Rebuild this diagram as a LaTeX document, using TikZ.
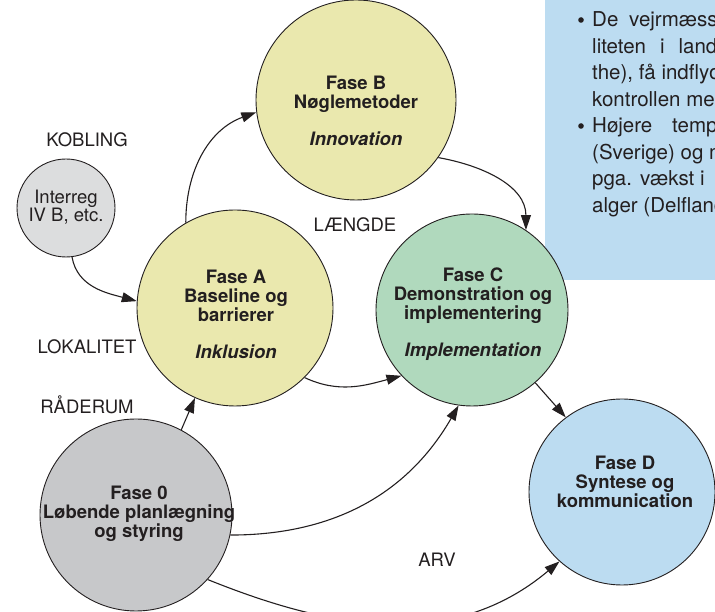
\documentclass[tikz,border=0pt]{standalone}
\usepackage{fontspec}
\setmainfont{TeX Gyre Heros}
\usetikzlibrary{arrows.meta}
\definecolor{ink}{HTML}{231F20}
\definecolor{yel}{HTML}{EAE8AE}
\definecolor{grn}{HTML}{B0D9BD}
\definecolor{blu}{HTML}{BCDCF1}
\definecolor{gry}{HTML}{C7C8CA}
\definecolor{lgry}{HTML}{DCDDDE}
\begin{document}
\begin{tikzpicture}[x=1pt,y=1pt,
  phase/.style={circle, draw=ink, line width=0.9pt, inner sep=0pt, minimum size=#1},
  ptext/.style={font=\fontsize{18.5}{19}\selectfont\bfseries, text=ink, align=center, inner sep=0pt},
  lbl/.style={font=\fontsize{18.5}{17.5}\selectfont, text=ink, inner sep=0pt, align=center},
  boxt/.style={font=\fontsize{20.5}{24}\selectfont, text=ink, inner sep=0pt, anchor=base west},
  conn/.style={draw=ink, line width=1.1pt, -{Triangle[length=15pt,width=10pt]}},
]
\useasboundingbox (0,0) rectangle (715,612);
% info box
\fill[blu] (545,332) rectangle (720,620);
\fill[ink] (581,592) circle (2.8);
\node[boxt] (t1) at (592,585) {\makebox[37pt][l]{De}vejrmæss};
\node[boxt] (t2) at (592,558.5) {\makebox[68pt][l]{liteten}\makebox[18.4pt][l]{i}landb};
\node[boxt] (t3) at (592,532) {the), få indflyd};
\node[boxt] (t4) at (592,505.5) {kontrollen me};
\fill[ink] (581,486) circle (2.8);
\node[boxt] (t5) at (592,479) {\makebox[80pt][l]{Højere}tempe};
\node[boxt] (t6) at (592,452.5) {(Sverige) og m};
\node[boxt] (t7) at (592,426) {\makebox[48pt][l]{pga.}\makebox[60pt][l]{vækst}i};
\node[boxt] (t8) at (592,399.5) {alger (Delfland};
% circles
\node[phase=98pt, fill=lgry] (I) at (66,404) {};
\node[phase=196pt, fill=yel] (A) at (235,304) {};
\node[phase=200pt, fill=yel] (B) at (356,512) {};
\node[phase=192pt, fill=grn] (C) at (472,302) {};
\node[phase=186pt, fill=blu] (D) at (622,120) {};
\node[phase=192pt, fill=gry] (Z) at (136,97) {};
% circle texts
\node[lbl] (It) at (66,405) {Interreg\\IV B, etc.};
\node[ptext] (At) at (236,298) {Fase A\\Baseline og\\barrierer\\[18pt]\textit{Inklusion}};
\node[ptext] (Bt) at (356,501) {Fase B\\Nøglemetoder\\[18pt]\textit{Innovation}};
\node[ptext] (Ct) at (473,298) {Fase C\\Demonstration og\\implementering\\[18pt]\textit{Implementation}};
\node[ptext] (Dt) at (625,130) {Fase D\\Syntese og\\kommunication};
\node[ptext] (Zt) at (139,98) {Fase 0\\Løbende planlægning\\og styring};
% free labels
\node[lbl] (kob) at (87,472) {KOBLING};
\node[lbl] (lok) at (87,265) {LOKALITET};
\node[lbl] (rad) at (87,207) {RÅDERUM};
\node[lbl] (lae) at (355,387) {LÆNGDE};
\node[lbl] (arv) at (437,52) {ARV};
% connectors
\draw[conn] (I.-83) to[out=-80,in=165] (A.176);
\draw[conn] (A.120) to[out=90,in=200] (B.187);
\draw[conn] (B.-35) to[out=-10,in=90] (C.56);
\draw[conn] (A.-45) to[out=-25,in=195] (C.-137);
\draw[conn] (Z.62) -- (A.-114);
\draw[conn] (Z.-12) to[out=0,in=-120] (C.-98);
\draw[conn] (C.-49) -- (D.127);
\draw[conn] (Z.-42) to[out=-22,in=-140] (D.-132);
\end{tikzpicture}
\end{document}
